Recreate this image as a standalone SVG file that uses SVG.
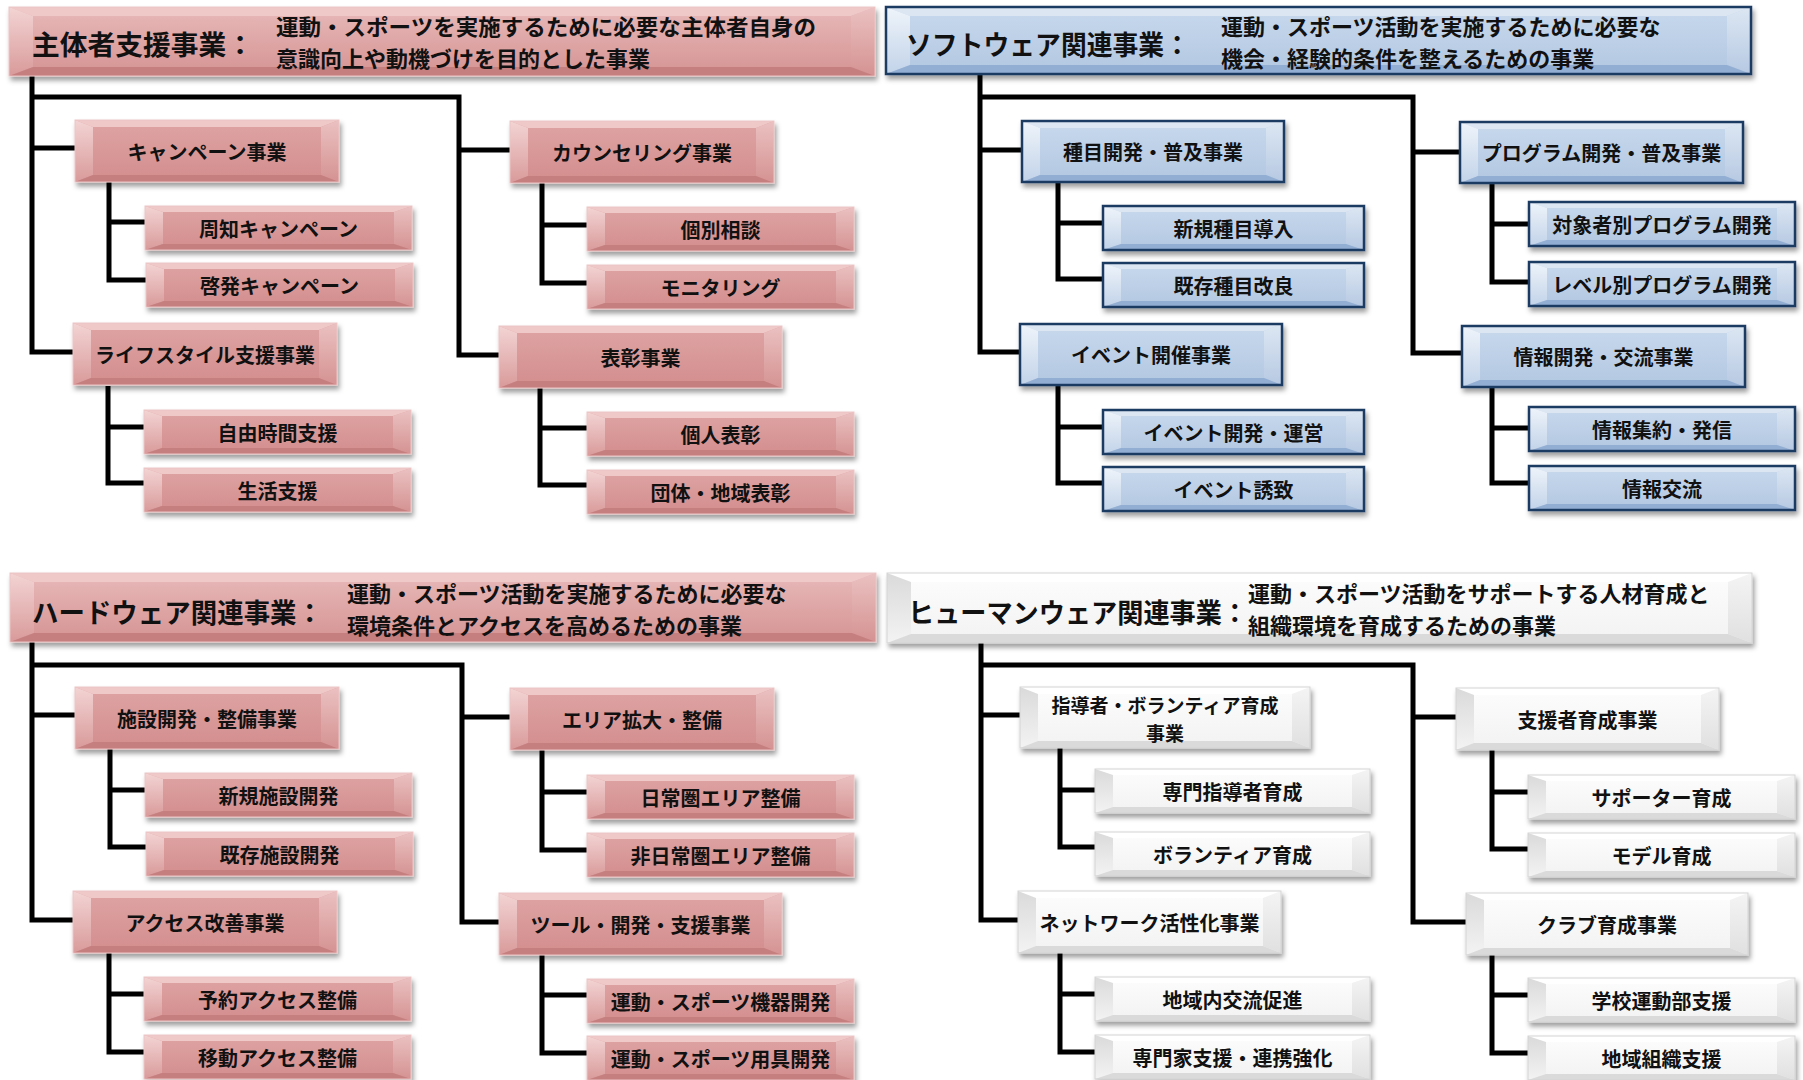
<svg xmlns="http://www.w3.org/2000/svg" xmlns:xlink="http://www.w3.org/1999/xlink" width="1803" height="1080" viewBox="0 0 1803 1080">
<style>
.pf{fill:url(#gpf)}.phf{fill:url(#gphf)}.pt{fill:#efc8c8}.pl{fill:url(#gpl)}.pr{fill:url(#gpr)}.pb{fill:#c57f7f}.pk{fill:none;stroke:#ecc5c5;stroke-width:1}
.bf{fill:url(#gbf)}.bt{fill:#dce6f2}.bl{fill:url(#gbl)}.br{fill:url(#gbr)}.bb{fill:#93aed3}.bk{fill:none;stroke:#1f3a63;stroke-width:2.5}
.wf{fill:url(#gwf)}.wt{fill:#ffffff}.wl{fill:url(#gwl)}.wr{fill:url(#gwr)}.wb{fill:#dadada}.wk{fill:none;stroke:#d4d4d4;stroke-width:1}
.cn{fill:none;stroke:#000;stroke-width:5;stroke-linejoin:miter;stroke-linecap:butt}
.t{font-family:"Noto Sans CJK JP","Noto Sans CJK SC",sans-serif;font-weight:bold;font-size:20px;fill:#111;text-anchor:middle;dominant-baseline:central}
.ht{font-size:27px;text-anchor:start}
.hd{font-size:22px;text-anchor:start}
.t2{font-size:19px}
</style>
<defs>
<filter id="sh" x="-10%" y="-20%" width="125%" height="160%"><feDropShadow dx="2" dy="4" stdDeviation="2.5" flood-color="#000" flood-opacity="0.38"/></filter>
<linearGradient id="gpf" x1="0" y1="0" x2="0" y2="1"><stop offset="0" stop-color="#dfa4a4"/><stop offset="1" stop-color="#d38d8d"/></linearGradient>
<linearGradient id="gphf" x1="0" y1="0" x2="0" y2="1"><stop offset="0" stop-color="#e8b9b9"/><stop offset="1" stop-color="#d59393"/></linearGradient>
<linearGradient id="gpl" x1="0" y1="0" x2="0" y2="1"><stop offset="0" stop-color="#f3d4d4"/><stop offset="1" stop-color="#d99a9a"/></linearGradient>
<linearGradient id="gpr" x1="0" y1="0" x2="0" y2="1"><stop offset="0" stop-color="#ebc1c1"/><stop offset="1" stop-color="#d59292"/></linearGradient>
<linearGradient id="gbf" x1="0" y1="0" x2="0" y2="1"><stop offset="0" stop-color="#c8d9ed"/><stop offset="1" stop-color="#b2c7e1"/></linearGradient>
<linearGradient id="gbl" x1="0" y1="0" x2="0" y2="1"><stop offset="0" stop-color="#eff4fa"/><stop offset="1" stop-color="#c2d3e9"/></linearGradient>
<linearGradient id="gbr" x1="0" y1="0" x2="0" y2="1"><stop offset="0" stop-color="#dde7f3"/><stop offset="1" stop-color="#b6c9e2"/></linearGradient>
<linearGradient id="gwf" x1="0" y1="0" x2="0" y2="1"><stop offset="0" stop-color="#fdfdfd"/><stop offset="1" stop-color="#f2f2f2"/></linearGradient>
<linearGradient id="gwl" x1="0" y1="0" x2="0" y2="1"><stop offset="0" stop-color="#dadada"/><stop offset="1" stop-color="#f3f3f3"/></linearGradient>
<linearGradient id="gwr" x1="0" y1="0" x2="0" y2="1"><stop offset="0" stop-color="#f4f4f4"/><stop offset="1" stop-color="#e0e0e0"/></linearGradient>

<g id="pH"><rect class="phf" width="866" height="69"/><polygon class="pt" points="0,0 866,0 842,9 24,9"/><polygon class="pl" points="0,0 24,9 24,60 0,69"/><polygon class="pr" points="866,0 866,69 842,60 842,9"/><polygon class="pb" points="0,69 24,60 842,60 866,69"/><rect class="pk" width="866" height="69"/></g>
<g id="bH"><rect class="bf" width="865" height="67"/><polygon class="bt" points="0,0 865,0 841,9 24,9"/><polygon class="bl" points="0,0 24,9 24,58 0,67"/><polygon class="br" points="865,0 865,67 841,58 841,9"/><polygon class="bb" points="0,67 24,58 841,58 865,67"/><rect class="bk" width="865" height="67"/></g>
<g id="wH"><rect class="wf" width="865" height="70"/><polygon class="wt" points="0,0 865,0 841,9 24,9"/><polygon class="wl" points="0,0 24,9 24,61 0,70"/><polygon class="wr" points="865,0 865,70 841,61 841,9"/><polygon class="wb" points="0,70 24,61 841,61 865,70"/><rect class="wk" width="865" height="70"/></g>

<g id="p1"><rect class="pf" width="264" height="62"/><polygon class="pt" points="0,0 264,0 246,7 18,7"/><polygon class="pl" points="0,0 18,7 18,55 0,62"/><polygon class="pr" points="264,0 264,62 246,55 246,7"/><polygon class="pb" points="0,62 18,55 246,55 264,62"/><rect class="pk" width="264" height="62"/></g>
<g id="p1w"><rect class="pf" width="283" height="62"/><polygon class="pt" points="0,0 283,0 265,7 18,7"/><polygon class="pl" points="0,0 18,7 18,55 0,62"/><polygon class="pr" points="283,0 283,62 265,55 265,7"/><polygon class="pb" points="0,62 18,55 265,55 283,62"/><rect class="pk" width="283" height="62"/></g>
<g id="p2"><rect class="pf" width="267" height="44"/><polygon class="pt" points="0,0 267,0 249,6 18,6"/><polygon class="pl" points="0,0 18,6 18,38 0,44"/><polygon class="pr" points="267,0 267,44 249,38 249,6"/><polygon class="pb" points="0,44 18,38 249,38 267,44"/><rect class="pk" width="267" height="44"/></g>

<g id="b1"><rect class="bf" width="262" height="61"/><polygon class="bt" points="0,0 262,0 244,7 18,7"/><polygon class="bl" points="0,0 18,7 18,54 0,61"/><polygon class="br" points="262,0 262,61 244,54 244,7"/><polygon class="bb" points="0,61 18,54 244,54 262,61"/><rect class="bk" width="262" height="61"/></g>
<g id="b1w"><rect class="bf" width="283" height="61"/><polygon class="bt" points="0,0 283,0 265,7 18,7"/><polygon class="bl" points="0,0 18,7 18,54 0,61"/><polygon class="br" points="283,0 283,61 265,54 265,7"/><polygon class="bb" points="0,61 18,54 265,54 283,61"/><rect class="bk" width="283" height="61"/></g>
<g id="b2"><rect class="bf" width="261" height="44"/><polygon class="bt" points="0,0 261,0 243,6 18,6"/><polygon class="bl" points="0,0 18,6 18,38 0,44"/><polygon class="br" points="261,0 261,44 243,38 243,6"/><polygon class="bb" points="0,44 18,38 243,38 261,44"/><rect class="bk" width="261" height="44"/></g>
<g id="b2w"><rect class="bf" width="266" height="44"/><polygon class="bt" points="0,0 266,0 248,6 18,6"/><polygon class="bl" points="0,0 18,6 18,38 0,44"/><polygon class="br" points="266,0 266,44 248,38 248,6"/><polygon class="bb" points="0,44 18,38 248,38 266,44"/><rect class="bk" width="266" height="44"/></g>

<g id="w1"><rect class="wf" width="263" height="62"/><polygon class="wt" points="0,0 263,0 245,7 18,7"/><polygon class="wl" points="0,0 18,7 18,55 0,62"/><polygon class="wr" points="263,0 263,62 245,55 245,7"/><polygon class="wb" points="0,62 18,55 245,55 263,62"/><rect class="wk" width="263" height="62"/></g>
<g id="w1w"><rect class="wf" width="282" height="62"/><polygon class="wt" points="0,0 282,0 264,7 18,7"/><polygon class="wl" points="0,0 18,7 18,55 0,62"/><polygon class="wr" points="282,0 282,62 264,55 264,7"/><polygon class="wb" points="0,62 18,55 264,55 282,62"/><rect class="wk" width="282" height="62"/></g>
<g id="w1x"><rect class="wf" width="290" height="61"/><polygon class="wt" points="0,0 290,0 272,7 18,7"/><polygon class="wl" points="0,0 18,7 18,54 0,61"/><polygon class="wr" points="290,0 290,61 272,54 272,7"/><polygon class="wb" points="0,61 18,54 272,54 290,61"/><rect class="wk" width="290" height="61"/></g>
<g id="w2"><rect class="wf" width="275" height="44"/><polygon class="wt" points="0,0 275,0 257,6 18,6"/><polygon class="wl" points="0,0 18,6 18,38 0,44"/><polygon class="wr" points="275,0 275,44 257,38 257,6"/><polygon class="wb" points="0,44 18,38 257,38 275,44"/><rect class="wk" width="275" height="44"/></g>
<g id="w2w"><rect class="wf" width="267" height="44"/><polygon class="wt" points="0,0 267,0 249,6 18,6"/><polygon class="wl" points="0,0 18,6 18,38 0,44"/><polygon class="wr" points="267,0 267,44 249,38 249,6"/><polygon class="wb" points="0,44 18,38 249,38 267,44"/><rect class="wk" width="267" height="44"/></g>
</defs>

<rect width="1803" height="1080" fill="#ffffff"/>

<g id="connectors">
<path class="cn" d="M32,74 V352 H76 M32,148 H77 M32,97 H459 V355 H501 M459,150 H512 M109,182 V280 H147 M109,222 H147 M108,386 V483 H146 M108,427 H146 M542,183 V283 H589 M542,225 H589 M540,387 V485 H589 M540,428 H589"/>
<path class="cn" d="M980,74 V352 H1022 M980,150 H1024 M980,97 H1413 V353 H1464 M1413,152 H1462 M1058,181 V279 H1105 M1058,223 H1105 M1058,385 V483 H1105 M1058,427 H1105 M1492,183 V282 H1531 M1492,224 H1531 M1492,387 V483 H1531 M1492,428 H1531"/>
<path class="cn" d="M32,642 V920 H75 M32,715 H77 M32,665 H462 V922 H501 M462,717 H512 M110,748 V847 H148 M110,790 H147 M109,953 V1052 H146 M109,994 H146 M542,750 V850 H589 M542,792 H589 M542,955 V1053 H589 M542,995 H589"/>
<path class="cn" d="M981,643 V920 H1020 M981,715 H1022 M981,665 H1413 V922 H1468 M1413,717 H1458 M1060,748 V847 H1097 M1060,790 H1097 M1060,953 V1052 H1097 M1060,994 H1097 M1492,750 V849 H1530 M1492,792 H1530 M1492,955 V1053 H1530 M1492,995 H1530"/>
</g>

<!-- Q1 -->
<g id="q1-header"><use href="#pH" x="9" y="7" filter="url(#sh)"/>
<text class="t ht" x="32" y="43.5" textLength="222" lengthAdjust="spacingAndGlyphs">主体者支援事業：</text>
<text class="t hd" x="276" y="25" textLength="540" lengthAdjust="spacingAndGlyphs">運動・スポーツを実施するために必要な主体者自身の</text>
<text class="t hd" x="276" y="57">意識向上や動機づけを目的とした事業</text></g>
<g id="q1-campaign"><use href="#p1" x="75" y="120" filter="url(#sh)"/><text class="t" x="207" y="151">キャンペーン事業</text></g>
<g id="q1-lifestyle"><use href="#p1" x="73" y="323" filter="url(#sh)"/><text class="t" x="205" y="354">ライフスタイル支援事業</text></g>
<g id="q1-counseling"><use href="#p1" x="510" y="121" filter="url(#sh)"/><text class="t" x="642" y="152">カウンセリング事業</text></g>
<g id="q1-hyosho"><use href="#p1w" x="499" y="326" filter="url(#sh)"/><text class="t" x="640.5" y="357">表彰事業</text></g>
<g id="q1-shuchi"><use href="#p2" x="145" y="206" filter="url(#sh)"/><text class="t" x="278.5" y="228">周知キャンペーン</text></g>
<g id="q1-keihatsu"><use href="#p2" x="146" y="263" filter="url(#sh)"/><text class="t" x="279.5" y="285">啓発キャンペーン</text></g>
<g id="q1-jiyu"><use href="#p2" x="144" y="410" filter="url(#sh)"/><text class="t" x="277.5" y="432">自由時間支援</text></g>
<g id="q1-seikatsu"><use href="#p2" x="144" y="468" filter="url(#sh)"/><text class="t" x="277.5" y="490">生活支援</text></g>
<g id="q1-kobetsu"><use href="#p2" x="587" y="207" filter="url(#sh)"/><text class="t" x="720.5" y="229">個別相談</text></g>
<g id="q1-monitoring"><use href="#p2" x="587" y="265" filter="url(#sh)"/><text class="t" x="720.5" y="287">モニタリング</text></g>
<g id="q1-kojin"><use href="#p2" x="587" y="412" filter="url(#sh)"/><text class="t" x="720.5" y="434">個人表彰</text></g>
<g id="q1-dantai"><use href="#p2" x="587" y="470" filter="url(#sh)"/><text class="t" x="720.5" y="492">団体・地域表彰</text></g>

<!-- Q2 -->
<g id="q2-header"><use href="#bH" x="886" y="7" filter="url(#sh)"/>
<text class="t ht" x="906" y="43" textLength="284" lengthAdjust="spacingAndGlyphs">ソフトウェア関連事業：</text>
<text class="t hd" x="1221" y="25">運動・スポーツ活動を実施するために必要な</text>
<text class="t hd" x="1221" y="57">機会・経験的条件を整えるための事業</text></g>
<g id="q2-shumoku"><use href="#b1" x="1022" y="121" filter="url(#sh)"/><text class="t" x="1153" y="151.5">種目開発・普及事業</text></g>
<g id="q2-event"><use href="#b1" x="1020" y="324" filter="url(#sh)"/><text class="t" x="1151" y="354.5">イベント開催事業</text></g>
<g id="q2-program"><use href="#b1w" x="1460" y="122" filter="url(#sh)"/><text class="t" x="1601.5" y="152.5">プログラム開発・普及事業</text></g>
<g id="q2-joho"><use href="#b1w" x="1462" y="326" filter="url(#sh)"/><text class="t" x="1603.5" y="356.5">情報開発・交流事業</text></g>
<g id="q2-shinki"><use href="#b2" x="1103" y="206" filter="url(#sh)"/><text class="t" x="1233.5" y="228">新規種目導入</text></g>
<g id="q2-kison"><use href="#b2" x="1103" y="263" filter="url(#sh)"/><text class="t" x="1233.5" y="285">既存種目改良</text></g>
<g id="q2-evdev"><use href="#b2" x="1103" y="410" filter="url(#sh)"/><text class="t" x="1233.5" y="432">イベント開発・運営</text></g>
<g id="q2-evyuchi"><use href="#b2" x="1103" y="467" filter="url(#sh)"/><text class="t" x="1233.5" y="489">イベント誘致</text></g>
<g id="q2-taisho"><use href="#b2w" x="1529" y="202" filter="url(#sh)"/><text class="t" x="1662" y="224">対象者別プログラム開発</text></g>
<g id="q2-level"><use href="#b2w" x="1529" y="262" filter="url(#sh)"/><text class="t" x="1662" y="284">レベル別プログラム開発</text></g>
<g id="q2-shuyaku"><use href="#b2w" x="1529" y="407" filter="url(#sh)"/><text class="t" x="1662" y="429">情報集約・発信</text></g>
<g id="q2-koryu"><use href="#b2w" x="1529" y="466" filter="url(#sh)"/><text class="t" x="1662" y="488">情報交流</text></g>

<!-- Q3 -->
<g id="q3-header"><use href="#pH" x="10" y="573" filter="url(#sh)"/>
<text class="t ht" x="32" y="611" textLength="291" lengthAdjust="spacingAndGlyphs">ハードウェア関連事業：</text>
<text class="t hd" x="347" y="592">運動・スポーツ活動を実施するために必要な</text>
<text class="t hd" x="347" y="624">環境条件とアクセスを高めるための事業</text></g>
<g id="q3-shisetsu"><use href="#p1" x="75" y="687" filter="url(#sh)"/><text class="t" x="207" y="718">施設開発・整備事業</text></g>
<g id="q3-access"><use href="#p1" x="73" y="891" filter="url(#sh)"/><text class="t" x="205" y="922">アクセス改善事業</text></g>
<g id="q3-area"><use href="#p1" x="510" y="688" filter="url(#sh)"/><text class="t" x="642" y="719">エリア拡大・整備</text></g>
<g id="q3-tool"><use href="#p1w" x="499" y="893" filter="url(#sh)"/><text class="t" x="640.5" y="924">ツール・開発・支援事業</text></g>
<g id="q3-shinshisetsu"><use href="#p2" x="145" y="773" filter="url(#sh)"/><text class="t" x="278.5" y="795">新規施設開発</text></g>
<g id="q3-kisonshisetsu"><use href="#p2" x="146" y="832" filter="url(#sh)"/><text class="t" x="279.5" y="854">既存施設開発</text></g>
<g id="q3-yoyaku"><use href="#p2" x="144" y="977" filter="url(#sh)"/><text class="t" x="277.5" y="999">予約アクセス整備</text></g>
<g id="q3-ido"><use href="#p2" x="144" y="1035" filter="url(#sh)"/><text class="t" x="277.5" y="1057">移動アクセス整備</text></g>
<g id="q3-nichijo"><use href="#p2" x="587" y="775" filter="url(#sh)"/><text class="t" x="720.5" y="797">日常圏エリア整備</text></g>
<g id="q3-hinichijo"><use href="#p2" x="587" y="833" filter="url(#sh)"/><text class="t" x="720.5" y="855">非日常圏エリア整備</text></g>
<g id="q3-kiki"><use href="#p2" x="587" y="979" filter="url(#sh)"/><text class="t" x="720.5" y="1001">運動・スポーツ機器開発</text></g>
<g id="q3-yogu"><use href="#p2" x="587" y="1036" filter="url(#sh)"/><text class="t" x="720.5" y="1058">運動・スポーツ用具開発</text></g>

<!-- Q4 -->
<g id="q4-header"><use href="#wH" x="887" y="573" filter="url(#sh)"/>
<text class="t ht" x="908" y="611" textLength="340" lengthAdjust="spacingAndGlyphs">ヒューマンウェア関連事業：</text>
<text class="t hd" x="1248" y="592">運動・スポーツ活動をサポートする人材育成と</text>
<text class="t hd" x="1248" y="624">組織環境を育成するための事業</text></g>
<g id="q4-shidosha"><use href="#w1x" x="1020" y="687" filter="url(#sh)"/><text class="t t2" x="1165" y="704">指導者・ボランティア育成</text><text class="t t2" x="1165" y="732">事業</text></g>
<g id="q4-network"><use href="#w1" x="1018" y="891" filter="url(#sh)"/><text class="t" x="1149.5" y="922">ネットワーク活性化事業</text></g>
<g id="q4-shiensha"><use href="#w1" x="1456" y="688" filter="url(#sh)"/><text class="t" x="1587.5" y="719">支援者育成事業</text></g>
<g id="q4-club"><use href="#w1w" x="1466" y="893" filter="url(#sh)"/><text class="t" x="1607" y="924">クラブ育成事業</text></g>
<g id="q4-senmon"><use href="#w2" x="1095" y="769" filter="url(#sh)"/><text class="t" x="1232.5" y="791">専門指導者育成</text></g>
<g id="q4-volunteer"><use href="#w2" x="1095" y="832" filter="url(#sh)"/><text class="t" x="1232.5" y="854">ボランティア育成</text></g>
<g id="q4-chiiki"><use href="#w2" x="1095" y="977" filter="url(#sh)"/><text class="t" x="1232.5" y="999">地域内交流促進</text></g>
<g id="q4-senmonka"><use href="#w2" x="1095" y="1035" filter="url(#sh)"/><text class="t" x="1232.5" y="1057">専門家支援・連携強化</text></g>
<g id="q4-supporter"><use href="#w2w" x="1528" y="775" filter="url(#sh)"/><text class="t" x="1661.5" y="797">サポーター育成</text></g>
<g id="q4-model"><use href="#w2w" x="1528" y="833" filter="url(#sh)"/><text class="t" x="1661.5" y="855">モデル育成</text></g>
<g id="q4-gakko"><use href="#w2w" x="1528" y="978" filter="url(#sh)"/><text class="t" x="1661.5" y="1000">学校運動部支援</text></g>
<g id="q4-soshiki"><use href="#w2w" x="1528" y="1036" filter="url(#sh)"/><text class="t" x="1661.5" y="1058">地域組織支援</text></g>
</svg>
